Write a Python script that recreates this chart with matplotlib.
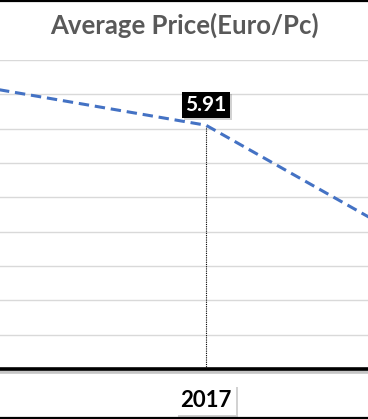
import matplotlib
matplotlib.use("Agg")
import matplotlib.pyplot as plt
import matplotlib.patheffects as pe
from matplotlib.lines import Line2D

# data (only a slice of the chart is visible)
years = [2016, 2017, 2018]
price = [6.05, 5.91, 5.45]
label_year = 2017
label_value = 5.91
title = "Average Price(Euro/Pc)"
y_min, y_max, y_step = 5.2, 6.1, 0.1

W, H = 368, 419
fig = plt.figure(figsize=(W / 100, H / 100), dpi=100)
fig.patch.set_facecolor("white")

# axes fill the whole width, gridlines from y=60 to the axis at y=369 (pixels)
ax = fig.add_axes([0, (H - 369) / H, 1, (369 - 60) / H])
ax.set_facecolor("white")

# pixel geometry of the crop: 2017 sits at x=206, one category ~280 px
px_per_cat = 280
ax.set_xlim(label_year - 206 / px_per_cat, label_year + (W - 206) / px_per_cat)
ax.set_ylim(y_min, y_max)

n_steps = int(round((y_max - y_min) / y_step))
ax.set_yticks([y_min + i * y_step for i in range(n_steps + 1)])
ax.set_yticklabels([])
ax.tick_params(axis="y", length=0)
ax.grid(axis="y", color="#d9d9d9", linewidth=1.0, zorder=0)
ax.set_axisbelow(True)

for s in ["top", "left", "right"]:
    ax.spines[s].set_visible(False)
ax.spines["bottom"].set_linewidth(2.6)
ax.spines["bottom"].set_color("black")
ax.spines["bottom"].set_path_effects([
    pe.SimpleLineShadow(offset=(0, -2.2), shadow_color="0.55", alpha=0.5),
    pe.Normal(),
])

# dashed price line
ax.plot(years, price, color="#4472c4", linewidth=2.2,
        linestyle=(0, (3.4, 1.9)), solid_capstyle="butt", zorder=3)

# drop line at the labelled point
ax.vlines(label_year, y_min, label_value, colors="black",
          linestyles=(0, (1, 1)), linewidth=0.8, zorder=2)

# data label with black box
lab = ax.annotate(f"{label_value:.2f}", xy=(label_year, label_value),
                  xytext=(0, 14.5), textcoords="offset points",
                  ha="center", va="center", color="white",
                  fontsize=15, fontweight="bold", family=["Lato", "DejaVu Sans"],
                  bbox=dict(boxstyle="square,pad=0.15", fc="black", ec="none"),
                  zorder=5)
lab.get_bbox_patch().set_path_effects([
    pe.SimplePatchShadow(offset=(1.5, -1.5), shadow_rgbFace="0.5", alpha=0.35),
    pe.Normal(),
])

# x tick label in a white box
ax.set_xticks([label_year])
ax.set_xticklabels([str(label_year)], fontsize=16, fontweight="bold",
                   family=["Lato", "DejaVu Sans"], color="black")
ax.tick_params(axis="x", length=0, pad=15)
for t in ax.get_xticklabels():
    t.set_bbox(dict(boxstyle="square,pad=0.2", fc="white", ec="none"))
    t.get_bbox_patch().set_path_effects([
        pe.SimplePatchShadow(offset=(1.5, -1.5), shadow_rgbFace="0.5", alpha=0.35),
        pe.Normal(),
    ])

# title
fig.text(0.5, 1 - 25 / H, title, ha="center", va="center", color="#595959",
         fontsize=18.5, fontweight="bold", family=["Lato", "DejaVu Sans"])

# black frame lines at top and bottom of the crop
fig.add_artist(Line2D([0, 1], [1 - 1 / H, 1 - 1 / H], transform=fig.transFigure,
                      color="black", linewidth=1.6))
fig.add_artist(Line2D([0, 1], [1.5 / H, 1.5 / H], transform=fig.transFigure,
                      color="black", linewidth=1.6))

fig.savefig("out.png", dpi=100)
